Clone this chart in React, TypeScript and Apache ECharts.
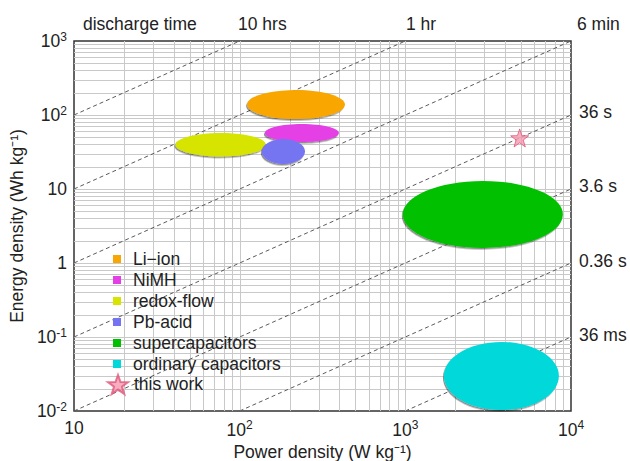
import React, { useEffect, useRef } from "react";
import * as echarts from "echarts";

// ---- data ----
const technologies = ["Li−ion", "NiMH", "redox-flow", "Pb-acid", "supercapacitors", "ordinary capacitors"];
const powerMin = [111, 142, 41, 136, 966, 1710];
const powerMax = [432, 397, 144, 248, 8930, 8450];
const energyMin = [88, 43, 27.5, 21.8, 1.6, 0.0103];
const energyMax = [218, 75.5, 57, 47.4, 12.8, 0.0855];
const techColors = ["#F9A602", "#E43FE6", "#D6E400", "#7474F2", "#00C000", "#00D8DA"];
const thisWorkName = "this work";
const thisWork = [[4900, 49]];
const dischargeTimesHrs = [10, 1, 0.1, 0.01, 0.001, 0.0001, 0.00001];
const topLabels = ["discharge time", "10 hrs", "1 hr", "6 min"];
const rightLabels = ["36 s", "3.6 s", "0.36 s", "36 ms"];
const xRange = [10, 10000];
const yRange = [0.01, 1000];

const STAR = "path://M50,2 L62,36 L98,37 L69,58 L80,93 L50,72 L20,93 L31,58 L2,37 L38,36 Z";
const FONT = "Liberation Sans, Arial, Helvetica, sans-serif";
const FS = 17.5;

function gridValues(lo: number, hi: number): number[] {
  const out: number[] = [];
  for (let d = Math.round(Math.log10(lo)); d < Math.round(Math.log10(hi)); d++) {
    for (let m = 1; m <= 9; m++) {
      const v = m * Math.pow(10, d);
      if (v > lo * 1.0001 && v < hi * 0.9999) out.push(v);
    }
  }
  return out;
}

function powLabel(v: number): string {
  const e = Math.round(Math.log10(v));
  if (e === 0) return "{b|1}";
  if (e === 1) return "{b|10}";
  return `{b|10}{s|${e}}`;
}

const rich = {
  b: { fontSize: FS, fontFamily: FONT, color: "#222" },
  s: { fontSize: 12, fontFamily: FONT, color: "#222", padding: [0, 0, 9, 0] },
};

export default function App() {
  const ref = useRef<HTMLDivElement>(null);
  useEffect(() => {
    if (!ref.current) return;
    const chart = echarts.init(ref.current, null, { renderer: "svg" });

    const vGrid = gridValues(xRange[0], xRange[1]).map((v) => [v, yRange[0]]);
    const hGrid = gridValues(yRange[0], yRange[1]).map((v) => [xRange[0], v]);

    const dashSeries = dischargeTimesHrs.map((t, i) => {
      const p1 = Math.max(xRange[0], yRange[0] / t);
      const p2 = Math.min(xRange[1], yRange[1] / t);
      return {
        type: "line",
        name: "t" + i,
        data: [
          [p1, p1 * t],
          [p2, p2 * t],
        ],
        symbol: "none",
        silent: true,
        z: 2,
        lineStyle: { color: "#5a5a5a", width: 1, type: [4, 3] },
      };
    });

    const ellipseSeries = technologies.map((name, i) => ({
      type: "custom",
      name,
      z: 3,
      itemStyle: { color: techColors[i] },
      encode: { x: [0, 1], y: [2, 3] },
      data: [[powerMin[i], powerMax[i], energyMin[i], energyMax[i]]],
      renderItem: (params: any, api: any) => {
        const a = api.coord([api.value(0), api.value(3)]);
        const b = api.coord([api.value(1), api.value(2)]);
        return {
          type: "ellipse",
          shape: {
            cx: (a[0] + b[0]) / 2,
            cy: (a[1] + b[1]) / 2,
            rx: Math.abs(b[0] - a[0]) / 2,
            ry: Math.abs(b[1] - a[1]) / 2,
          },
          style: {
            fill: techColors[i],
            shadowBlur: 1.5,
            shadowOffsetX: -1,
            shadowOffsetY: 1.5,
            shadowColor: "rgba(0,0,0,0.45)",
          },
        };
      },
    }));

    const gridLine = (vertical: boolean) => (params: any, api: any) => {
      const v = api.value(vertical ? 0 : 1);
      const p1 = vertical ? api.coord([v, yRange[0]]) : api.coord([xRange[0], v]);
      const p2 = vertical ? api.coord([v, yRange[1]]) : api.coord([xRange[1], v]);
      const r = (n: number) => Math.round(n) + 0.5;
      return {
        type: "line",
        shape: vertical
          ? { x1: r(p1[0]), y1: p1[1], x2: r(p2[0]), y2: p2[1] }
          : { x1: p1[0], y1: r(p1[1]), x2: p2[0], y2: r(p2[1]) },
        style: { stroke: "#c9c9c9", lineWidth: 1 },
      };
    };

    const option: any = {
      animation: false,
      textStyle: { fontFamily: FONT },
      grid: {
        left: 74,
        right: 59,
        top: 41,
        bottom: 50,
        show: true,
        borderColor: "#333",
        borderWidth: 1.5,
        backgroundColor: "transparent",
        containLabel: false,
        outerBoundsMode: "none",
      },
      xAxis: {
        type: "log",
        logBase: 10,
        min: xRange[0],
        max: xRange[1],
        interval: 1,
        name: "Power density (W kg⁻¹)",
        nameLocation: "middle",
        nameGap: 28,
        nameTextStyle: { fontSize: FS, color: "#222", fontFamily: FONT },
        axisLine: { show: false },
        axisTick: { show: false },
        splitLine: { show: false },
        axisLabel: { margin: 8, formatter: powLabel, rich },
      },
      yAxis: {
        type: "log",
        logBase: 10,
        min: yRange[0],
        max: yRange[1],
        interval: 1,
        name: "Energy density (Wh kg⁻¹)",
        nameLocation: "middle",
        nameGap: 46,
        nameTextStyle: { fontSize: FS, color: "#222", fontFamily: FONT },
        axisLine: { show: false },
        axisTick: { show: false },
        splitLine: { show: false },
        axisLabel: { margin: 7, formatter: powLabel, rich },
      },
      legend: [
        {
          orient: "vertical",
          left: 108,
          top: 245,
          itemWidth: 8,
          itemHeight: 8,
          itemGap: 3,
          data: technologies.map((n, i) => ({ name: n, icon: "rect", itemStyle: { color: techColors[i] } })),
          textStyle: { fontSize: FS, lineHeight: 18, color: "#222", fontFamily: FONT, padding: [0, 0, 0, 7] },
          selectedMode: false,
        },
        {
          orient: "vertical",
          left: 102,
          top: 369,
          itemWidth: 20,
          itemHeight: 20,
          data: [{ name: thisWorkName, icon: STAR }],
          textStyle: { fontSize: FS, lineHeight: 18, color: "#222", fontFamily: FONT, padding: [0, 0, 0, 1] },
          selectedMode: false,
        },
      ],
      graphic: [
        ...topLabels.map((t, i) => ({
          type: "text",
          left: [83, 238, 406, 577][i],
          top: 15,
          style: { text: t, fontSize: FS, fill: "#222", fontFamily: FONT },
        })),
        ...rightLabels.map((t, i) => ({
          type: "text",
          left: 579,
          top: [113, 187, 262, 336][i] - 10,
          style: { text: t, fontSize: FS, fill: "#222", fontFamily: FONT },
        })),
      ],
      series: [
        {
          type: "custom",
          name: "vgrid",
          silent: true,
          z: 1,
          encode: { x: 0, y: 1 },
          data: vGrid,
          renderItem: gridLine(true),
        },
        {
          type: "custom",
          name: "hgrid",
          silent: true,
          z: 1,
          encode: { x: 0, y: 1 },
          data: hGrid,
          renderItem: gridLine(false),
        },
        ...dashSeries,
        ...ellipseSeries,
        {
          type: "scatter",
          name: thisWorkName,
          z: 4,
          data: thisWork,
          symbol: STAR,
          symbolSize: 18,
          itemStyle: { color: "#F59AB2", borderColor: "#E0587A", borderWidth: 1 },
        },
      ],
    };
    chart.setOption(option);
    return () => chart.dispose();
  }, []);
  return (
    <div
      ref={ref}
      style={{ position: "fixed", left: 0, top: 0, width: 630, height: 461, background: "#fff" }}
    />
  );
}
